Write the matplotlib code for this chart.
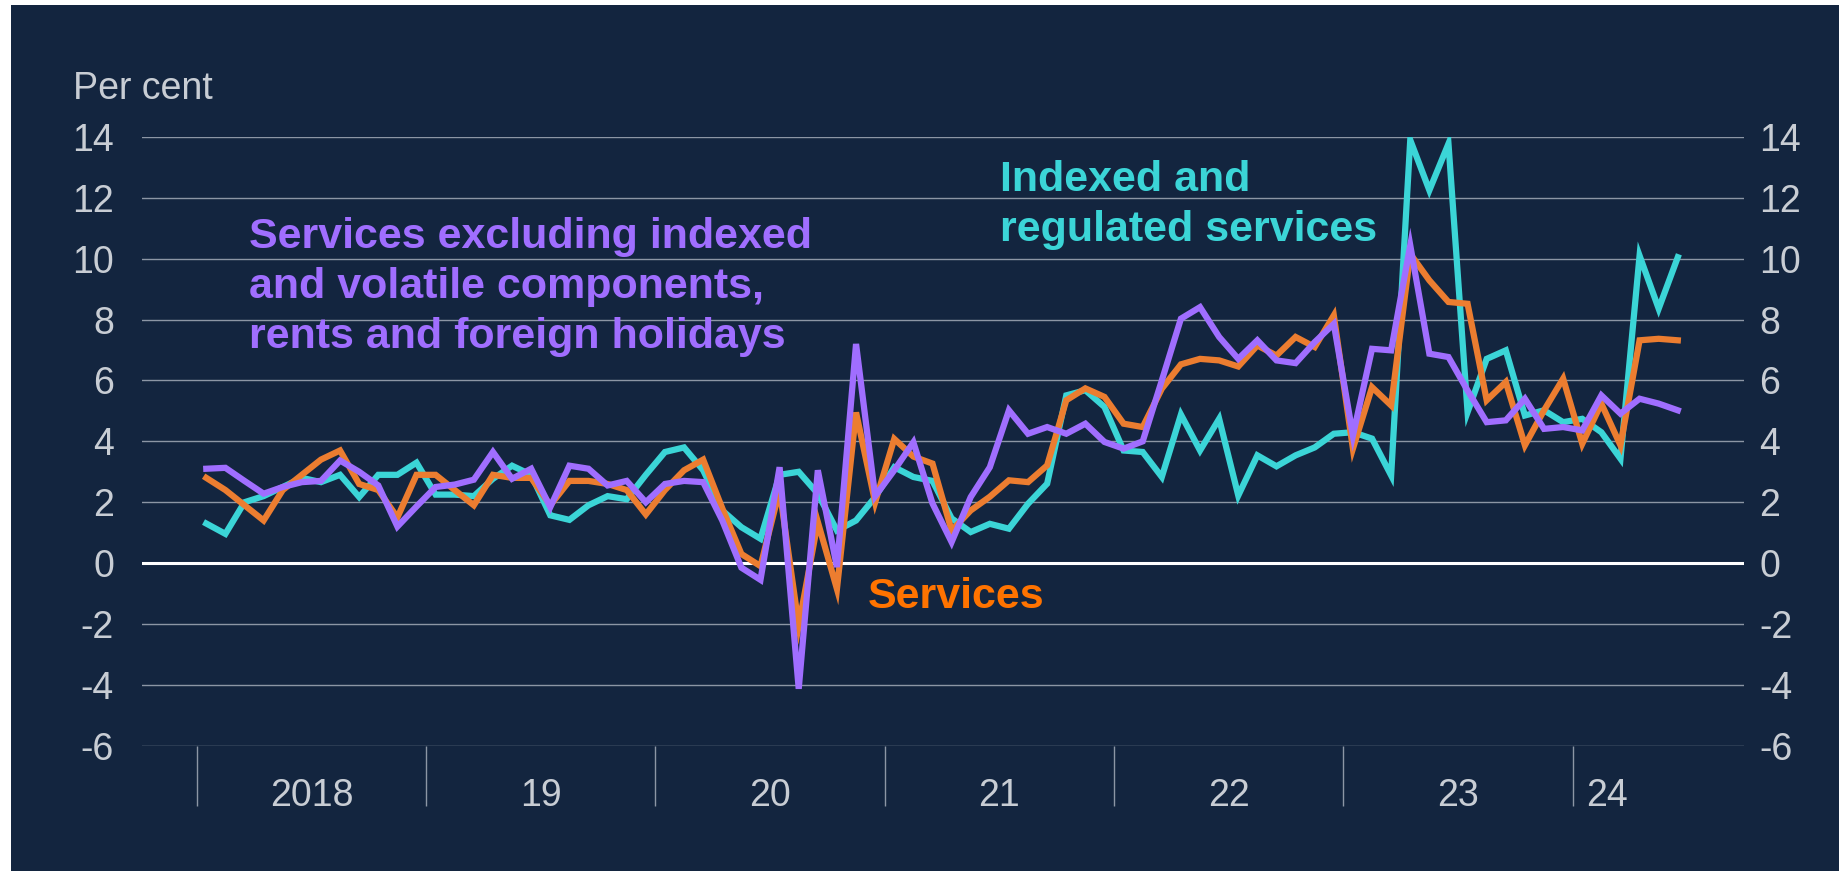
import matplotlib
matplotlib.use("Agg")
import matplotlib.pyplot as plt
from matplotlib.patches import Rectangle
import matplotlib.transforms as mtransforms

plt.rcParams['font.family'] = ['Liberation Sans', 'DejaVu Sans']

# ---- data (monthly, Jan 2018 - Jun 2024) ----
services = [2.8, 2.4, 1.9, 1.4, 2.4, 2.9, 3.4, 3.7, 2.6, 2.4, 1.5, 2.9,
            2.9, 2.4, 1.9, 2.9, 2.8, 2.8, 1.9, 2.7, 2.7, 2.6, 2.4, 1.6,
            2.4, 3.05, 3.4, 1.8, 0.3, -0.1, 2.4, -2.05, 1.35, -0.85, 4.95, 2.0,
            4.08, 3.5, 3.27, 1.07, 1.73, 2.18, 2.72, 2.66, 3.21, 5.35, 5.74, 5.46,
            4.58, 4.47, 5.73, 6.53, 6.71, 6.66, 6.46, 7.15, 6.82, 7.43, 7.1, 8.14,
            3.76, 5.78, 5.18, 10.16, 9.29, 8.58, 8.52, 5.35, 5.95, 3.87, 5.02, 6.06,
            3.92, 5.24, 3.87, 7.32, 7.37, 7.32]
indexed = [1.3, 0.96, 2.0, 2.2, 2.5, 2.8, 2.66, 2.9, 2.17, 2.9, 2.9, 3.3,
           2.25, 2.25, 2.2, 2.77, 3.2, 2.9, 1.57, 1.42, 1.9, 2.2, 2.1, 2.9,
           3.65, 3.8, 3.05, 1.73, 1.18, 0.8, 2.9, 3.0, 2.28, 1.07, 1.4, 2.17,
           3.15, 2.83, 2.7, 1.47, 1.02, 1.29, 1.13, 1.95, 2.61, 5.51, 5.68, 5.13,
           3.7, 3.65, 2.83, 4.88, 3.7, 4.74, 2.22, 3.54, 3.18, 3.54, 3.8, 4.25,
           4.3, 4.09, 2.88, 13.9, 12.25, 13.78, 4.96, 6.71, 6.99, 4.85, 5.02, 4.63,
           4.74, 4.3, 3.43, 10.1, 8.36, 10.05]
excl = [3.1, 3.13, 2.7, 2.28, 2.5, 2.66, 2.7, 3.37, 3.0, 2.55, 1.2, 1.86,
        2.5, 2.58, 2.74, 3.65, 2.77, 3.1, 1.84, 3.2, 3.1, 2.55, 2.7, 2.0,
        2.6, 2.7, 2.66, 1.4, -0.15, -0.55, 3.15, -4.13, 3.05, -0.13, 7.2, 2.2,
        3.05, 3.97, 1.96, 0.69, 2.17, 3.15, 5.02, 4.25, 4.47, 4.25, 4.58, 3.98,
        3.76, 4.0, 6.0, 8.03, 8.41, 7.43, 6.71, 7.32, 6.66, 6.57, 7.26, 7.86,
        4.19, 7.04, 6.99, 10.44, 6.88, 6.77, 5.67, 4.63, 4.69, 5.4, 4.41, 4.47,
        4.36, 5.51, 4.91, 5.4, 5.24, 5.02]

year_labels = ["2018", "19", "20", "21", "22", "23", "24"]
year_label_pos = [5.5, 17.5, 29.5, 41.5, 53.5, 65.5, 73.3]
year_sep = [-0.5, 11.5, 23.5, 35.5, 47.5, 59.5, 71.5]
yticks = [-6, -4, -2, 0, 2, 4, 6, 8, 10, 12, 14]

# ---- style ----
W, H = 1840, 871
BG = '#13253F'
GRID = '#8C96A5'
TXT = '#C8CDD4'
C_ORANGE = '#EC7D30'
C_ORANGE_TXT = '#FF7300'
C_TEAL = '#3BD5D7'
C_PURPLE = '#A06EFF'

fig = plt.figure(figsize=(W / 100, H / 100), dpi=100, facecolor='white')
fig.patches.append(Rectangle((11 / W, 0), 1 - 11 / W, 1 - 5 / H,
                             transform=fig.transFigure, facecolor=BG,
                             edgecolor='none', zorder=-10))

def fx(x):
    return x / W

def fy(y):
    return 1 - y / H

ax_l, ax_r, ax_t, ax_b = 141.7, 1744.3, 137.0, 745.7
ax = fig.add_axes([fx(ax_l), fy(ax_b), fx(ax_r) - fx(ax_l), (ax_b - ax_t) / H])
ax.set_facecolor('none')
for s in ax.spines.values():
    s.set_visible(False)

x = list(range(len(services)))
ax.set_xlim(-3.38, 80.48)
ax.set_ylim(-6, 14)

for yv in yticks:
    if yv == 0:
        continue
    ax.axhline(yv, color=GRID, lw=1.0, zorder=1)
ax.axhline(0, color='white', lw=2.2, zorder=2)

ax.plot(x, indexed, color=C_TEAL, lw=4.5, zorder=3, solid_joinstyle='miter')
ax.plot(x, services, color=C_ORANGE, lw=4.5, zorder=4, solid_joinstyle='miter')
ax.plot(x, excl, color=C_PURPLE, lw=4.5, zorder=5, solid_joinstyle='miter')

ax.set_yticks(yticks)
ax.set_yticklabels([str(v) for v in yticks])
ax.tick_params(axis='y', length=0, labelsize=27, labelcolor=TXT, pad=20)

ax.set_xticks(year_sep)
ax.set_xticklabels([])
ax.tick_params(axis='x', length=43, width=1.0, color=GRID, direction='out')

trans = mtransforms.blended_transform_factory(ax.transData, ax.transAxes)
for lab, pos in zip(year_labels, year_label_pos):
    ax.text(pos, -0.083, lab, transform=trans, ha='center', va='center',
            fontsize=27, color=TXT)

ax2 = ax.twinx()
ax2.set_ylim(-6, 14)
ax2.set_yticks(yticks)
ax2.set_yticklabels([str(v) for v in yticks])
ax2.tick_params(axis='y', length=0, labelsize=27, labelcolor=TXT, pad=11)
for s in ax2.spines.values():
    s.set_visible(False)
ax2.set_facecolor('none')

fig.text(fx(72.7), fy(99), "Per cent", ha='left', va='baseline',
         fontsize=27, color=TXT)

fig.text(fx(249), fy(287), "Services excluding indexed\nand volatile components,\nrents and foreign holidays",
         ha='left', va='center', fontsize=31, fontweight='bold', color=C_PURPLE,
         linespacing=1.31)
fig.text(fx(1000), fy(205), "Indexed and\nregulated services",
         ha='left', va='center', fontsize=31, fontweight='bold', color=C_TEAL,
         linespacing=1.31)
fig.text(fx(868), fy(597), "Services",
         ha='left', va='center', fontsize=31, fontweight='bold', color=C_ORANGE_TXT)

fig.savefig("out.png", dpi=100, facecolor=fig.get_facecolor())
